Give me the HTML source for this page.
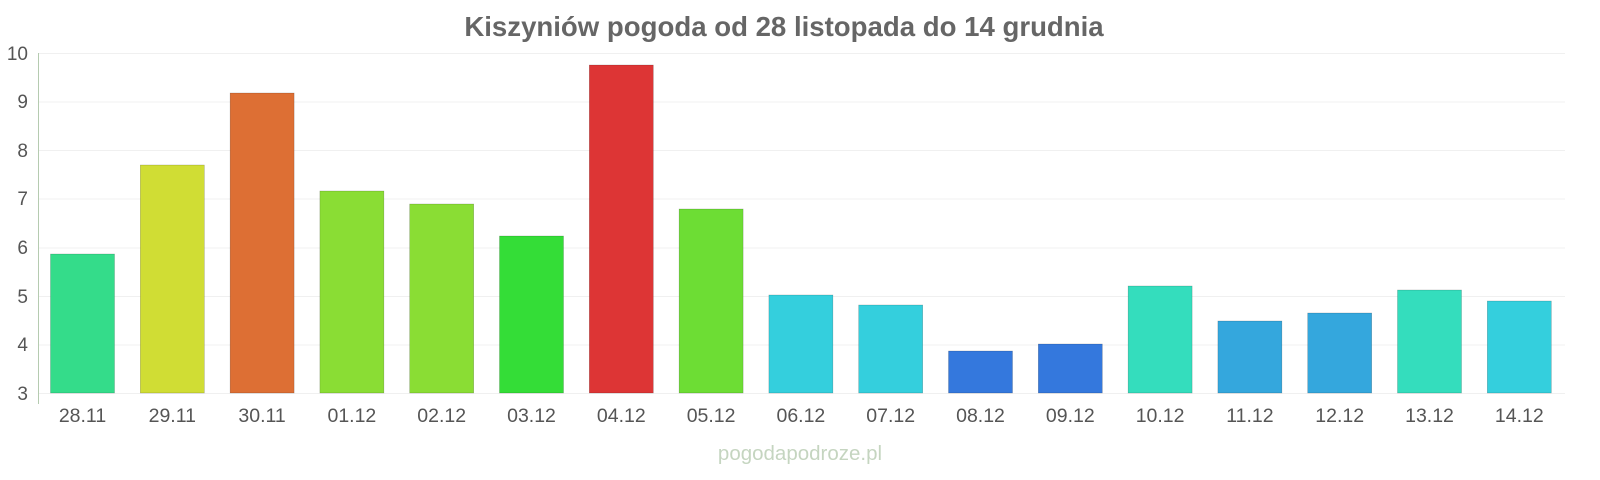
<!DOCTYPE html>
<html><head><meta charset="utf-8"><style>
html,body{margin:0;padding:0;background:#fff;}
svg{display:block;font-family:"Liberation Sans",sans-serif;}
</style></head><body>
<svg width="1600" height="480" viewBox="0 0 1600 480">
<text x="784" y="36" text-anchor="middle" font-size="27.6" font-weight="bold" fill="#666">Kiszyniów pogoda od 28 listopada do 14 grudnia</text>
<g stroke="#f0f0f0" stroke-width="1">
<line x1="38" x2="1565" y1="53.5" y2="53.5"/><line x1="38" x2="1565" y1="102" y2="102"/>
<line x1="38" x2="1565" y1="150.5" y2="150.5"/><line x1="38" x2="1565" y1="199" y2="199"/>
<line x1="38" x2="1565" y1="248" y2="248"/><line x1="38" x2="1565" y1="296.5" y2="296.5"/>
<line x1="38" x2="1565" y1="345" y2="345"/><line x1="38" x2="1565" y1="393.5" y2="393.5"/>
</g>
<line x1="38.5" x2="38.5" y1="53" y2="404" stroke="#b5cbb0" stroke-width="1"/>
<g font-size="19" fill="#555" text-anchor="end">
<text x="28" y="60">10</text><text x="28" y="108">9</text><text x="28" y="157">8</text>
<text x="28" y="205">7</text><text x="28" y="254">6</text><text x="28" y="303">5</text>
<text x="28" y="351">4</text><text x="28" y="400">3</text>
</g>
<g stroke-opacity="0.3" stroke="#000" stroke-width="0.5">
<rect x="50.5" y="254" width="64" height="139" fill="#34dc8a"/>
<rect x="140.3" y="165" width="64" height="228" fill="#d0dd34"/>
<rect x="230.1" y="93" width="64" height="300" fill="#dd6f34"/>
<rect x="319.9" y="191" width="64" height="202" fill="#8add34"/>
<rect x="409.7" y="204" width="64" height="189" fill="#8add34"/>
<rect x="499.5" y="236" width="64" height="157" fill="#34dd37"/>
<rect x="589.3" y="65" width="64" height="328" fill="#dd3535"/>
<rect x="679.1" y="209" width="64" height="184" fill="#6ddd34"/>
<rect x="768.9" y="295" width="64" height="98" fill="#34cfdd"/>
<rect x="858.7" y="305" width="64" height="88" fill="#34cfdd"/>
<rect x="948.5" y="351" width="64" height="42" fill="#3478dd"/>
<rect x="1038.3" y="344" width="64" height="49" fill="#3478dd"/>
<rect x="1128.1" y="286" width="64" height="107" fill="#34ddbd"/>
<rect x="1217.9" y="321" width="64" height="72" fill="#34a7dd"/>
<rect x="1307.7" y="313" width="64" height="80" fill="#34a7dd"/>
<rect x="1397.5" y="290" width="64" height="103" fill="#34ddbd"/>
<rect x="1487.3" y="301" width="64" height="92" fill="#34cfdd"/>
</g>
<g font-size="19.5" fill="#555" text-anchor="middle">
<text x="82.5" y="422">28.11</text><text x="172.3" y="422">29.11</text><text x="262.1" y="422">30.11</text>
<text x="351.9" y="422">01.12</text><text x="441.7" y="422">02.12</text><text x="531.5" y="422">03.12</text>
<text x="621.3" y="422">04.12</text><text x="711.1" y="422">05.12</text><text x="800.9" y="422">06.12</text>
<text x="890.7" y="422">07.12</text><text x="980.5" y="422">08.12</text><text x="1070.3" y="422">09.12</text>
<text x="1160.1" y="422">10.12</text><text x="1249.9" y="422">11.12</text><text x="1339.7" y="422">12.12</text>
<text x="1429.5" y="422">13.12</text><text x="1519.3" y="422">14.12</text>
</g>
<text x="800" y="460" text-anchor="middle" font-size="20.5" fill="#c5d5c0">pogodapodroze.pl</text>
</svg>
</body></html>
